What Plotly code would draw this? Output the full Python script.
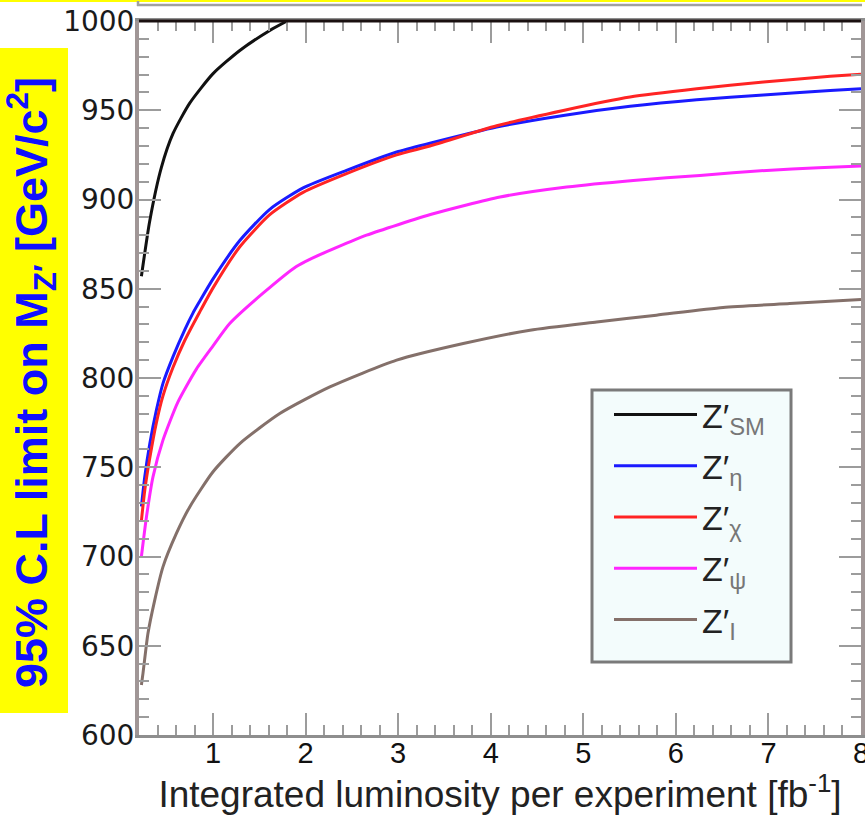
import plotly.graph_objects as go

# ---- data ----
lum_sm = [0.226, 0.316, 0.442, 0.568, 0.748, 1.0, 1.289, 1.613, 1.8]
m_sm = [857, 888, 918, 937, 954, 970.5, 983.5, 994.7, 1000]

lum_eta = [0.226, 0.262, 0.316, 0.388, 0.459, 0.568, 0.694, 0.784, 0.856, 1.0, 1.289, 1.613,
           1.973, 2.442, 2.983, 3.343, 4.064, 4.784, 5.505, 6.226, 6.946, 7.667, 8.0]
m_eta = [728, 744.6, 763, 782, 797, 812, 827, 836.5, 843, 855.5, 877, 894.5,
         906.5, 916.3, 926.6, 931.5, 940.6, 947.1, 952.2, 955.9, 958.6, 961.1, 962.0]

lum_chi = [0.226, 0.262, 0.316, 0.388, 0.459, 0.568, 0.694, 0.856, 1.0, 1.289, 1.613,
           1.973, 2.442, 2.983, 3.343, 4.064, 4.784, 5.505, 6.226, 6.946, 7.667, 8.0]
m_chi = [720, 737, 755, 775, 790, 806, 821, 837, 850.5, 873.5, 891.5,
         904, 914.5, 925, 930, 941.3, 949.9, 957.4, 962.0, 965.8, 969.0, 970.2]

lum_psi = [0.226, 0.28, 0.351, 0.459, 0.62, 0.82, 1.0, 1.18, 1.54, 1.9, 2.045, 2.33,
           2.658, 3.378, 4.1, 4.82, 5.54, 6.26, 6.98, 7.54, 8.0]
m_psi = [700, 722, 744.6, 765.2, 786.5, 805, 818, 830.5, 847.5, 862.5, 866.5, 873,
         880, 892, 901.4, 907, 910.7, 913.5, 916.3, 917.8, 918.8]

lum_i = [0.226, 0.243, 0.297, 0.37, 0.459, 0.604, 0.748, 1.0, 1.289, 1.721, 2.262,
         2.983, 3.703, 4.424, 5.145, 5.79, 6.51, 7.23, 8.0]
m_i = [628, 634.5, 657, 675.6, 694.2, 712.9, 727.8, 747.5, 763.3, 780.1, 795.0,
       810.0, 819.3, 826.8, 831.4, 835.2, 839.5, 841.7, 844]

sub = "<span style='color:#777777'>{}</span>"
series = [
    ("Z′<sub>" + sub.format("SM") + "</sub>", lum_sm, m_sm, "#111111"),
    ("Z′<sub>" + sub.format("η") + "</sub>", lum_eta, m_eta, "#1a1aff"),
    ("Z′<sub>" + sub.format("χ") + "</sub>", lum_chi, m_chi, "#ff2424"),
    ("Z′<sub>" + sub.format("ψ") + "</sub>", lum_psi, m_psi, "#ff26ff"),
    ("Z′<sub>" + sub.format("I") + "</sub>", lum_i, m_i, "#84706a"),
]

x_ticks = [1, 2, 3, 4, 5, 6, 7, 8]
y_ticks = [600, 650, 700, 750, 800, 850, 900, 950, 1000]

W, H = 865, 822
ML, MR, MT, MB = 139, 4, 21, 87
PW, PH = W - ML - MR, H - MT - MB


def px(x):
    return (x - ML) / PW


def py(y):
    return (H - MB - y) / PH


fig = go.Figure()
for i, (name, xs, ys, col) in enumerate(series):
    fig.add_trace(go.Scatter(x=xs, y=ys, mode="lines", name=name, legendgroup=str(i),
                             line=dict(color=col, width=3, shape="spline", smoothing=0.6)))

tick_gray = "#9c9c9c"
fig.update_xaxes(range=[0.2, 8.0], tickvals=x_ticks, ticks="inside", ticklen=22, tickwidth=2,
                 tickcolor=tick_gray,
                 minor=dict(dtick=0.2, tick0=0, ticks="inside", ticklen=10, tickwidth=2,
                            tickcolor=tick_gray),
                 showline=True, linecolor="#8e8e8e", linewidth=3, mirror="ticks",
                 showgrid=False, zeroline=False, ticklabelstandoff=-10,
                 ticklabeloverflow="allow",
                 tickfont=dict(family="Liberation Sans", size=29, color="#111111"),
                 title=dict(text="Integrated luminosity per experiment [fb<sup>-1</sup>]",
                            font=dict(family="Liberation Sans", size=37, color="#222222"),
                            standoff=2))
fig.update_yaxes(range=[600, 1000], tickvals=y_ticks, ticks="inside", ticklen=22, tickwidth=2,
                 tickcolor=tick_gray,
                 minor=dict(dtick=10, tick0=600, ticks="inside", ticklen=10, tickwidth=2,
                            tickcolor=tick_gray),
                 showline=True, linecolor="#a09696", linewidth=4, mirror="ticks",
                 showgrid=False, zeroline=False, ticklabelstandoff=-5,
                 tickfont=dict(family="DejaVu Sans", size=28, color="#1a1a1a"))

shapes = [
    # yellow box behind the y title
    dict(type="rect", xref="paper", yref="paper", x0=px(0), x1=px(68), y0=py(713), y1=py(48),
         fillcolor="#ffff00", line=dict(width=0), layer="below"),
    # legend box
    dict(type="rect", xref="paper", yref="paper", x0=px(592), x1=px(791), y0=py(662), y1=py(390),
         fillcolor="#f3fcfc", line=dict(color="#7a7a7a", width=3), layer="above"),
    # black top frame line
    dict(type="line", xref="paper", yref="paper", x0=0, x1=1, y0=1, y1=1,
         line=dict(color="#1a1010", width=3)),
    # yellow strip at the very top
    dict(type="rect", xref="paper", yref="paper", x0=px(0), x1=px(865), y0=py(2), y1=py(0),
         fillcolor="#ffff00", line=dict(width=0)),
    # gray frame remains at the top
    dict(type="line", xref="paper", yref="paper", x0=px(137), x1=px(862), y0=py(5), y1=py(5),
         line=dict(color="#a0a0a0", width=2.5)),
    dict(type="line", xref="paper", yref="paper", x0=px(138), x1=px(138), y0=py(6), y1=py(1),
         line=dict(color="#a0a0a0", width=2.5)),
]

annotations = [
    dict(text="95% C.L limit on M<sub>Z′</sub> [GeV/c<sup>2</sup>]", textangle=-90,
         xref="paper", yref="paper", x=px(31), y=py(383), xanchor="center", yanchor="middle",
         showarrow=False,
         font=dict(family="Liberation Sans", size=45, color="#1010ff", weight="bold")),
]

fig.update_layout(
    width=W, height=H,
    margin=dict(l=ML, r=MR, t=MT, b=MB, autoexpand=False),
    paper_bgcolor="white", plot_bgcolor="white",
    shapes=shapes, annotations=annotations,
    showlegend=True,
    legend=dict(x=px(609), y=py(386), xanchor="left", yanchor="top",
                bgcolor="rgba(0,0,0,0)", borderwidth=0, itemwidth=83,
                tracegroupgap=4,
                font=dict(family="Liberation Sans", size=34, color="#222222")),
)

fig.write_html("out.html", config={"displayModeBar": False},
               post_script="document.body.style.margin='0px';")
